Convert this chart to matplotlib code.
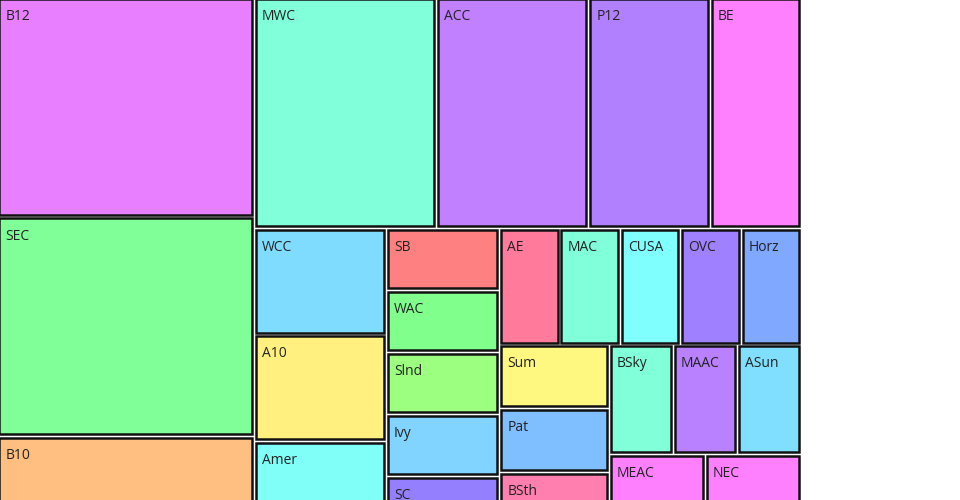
import matplotlib
matplotlib.use("Agg")
import matplotlib.pyplot as plt
from matplotlib.patches import Rectangle

# conference -> value, in tiling order (the last few sit below the visible area)
names = ["B12", "SEC", "B10", "MWC", "ACC", "P12", "BE", "WCC", "A10", "Amer", "MVC",
         "SB", "WAC", "Slnd", "Ivy", "SC", "CAA", "AE", "MAC", "CUSA", "OVC", "Horz",
         "Sum", "Pat", "BSth", "BW", "BSky", "MAAC", "ASun", "MEAC", "SWAC", "NEC",
         "Ind", "GWC"]
values = [8, 8, 6, 6, 5, 4, 3, 2, 2, 2, 1,
          1, 1, 1, 1, 1, 1, 1, 1, 1, 1, 1,
          1, 1, 1, 1, 1, 1, 1, 1, 1, 1,
          0.4, 0.6]
colors = ["#E87FFF", "#80FF99", "#FFBF80", "#80FFDA", "#C080FF", "#B080FF", "#FF80FF",
          "#80DCFF", "#FFF080", "#80FFF8", "#FFB080",
          "#FF8080", "#80FF8C", "#9CFF80", "#80D4FF", "#9480FF", "#80FFB0",
          "#FF7A9B", "#80FFDA", "#80FFFF", "#9F80FF", "#80A8FF",
          "#FFF880", "#80BFFF", "#FF80AF", "#FFD080",
          "#80FFD8", "#B980FF", "#80DFFF", "#FF80FF", "#A0FF80", "#FF80FF",
          "#80C8FF", "#FF9FD0"]

PHI = (1 + 5 ** 0.5) / 2


def squarify(vals, x0, y0, x1, y1, ratio=PHI):
    # same greedy rows as d3.treemapSquarify
    n = len(vals)
    rects = [None] * n
    value = float(sum(vals))
    i0 = i1 = 0
    while i0 < n:
        dx, dy = x1 - x0, y1 - y0
        s = vals[i1]
        i1 += 1
        vmin = vmax = s
        alpha = max(dy / dx, dx / dy) / (value * ratio)
        beta = s * s * alpha
        best = max(vmax / beta, beta / vmin)
        while i1 < n:
            v = vals[i1]
            s += v
            vmin = min(vmin, v)
            vmax = max(vmax, v)
            beta = s * s * alpha
            r = max(vmax / beta, beta / vmin)
            if r > best:
                s -= v
                break
            best = r
            i1 += 1
        if dx < dy:
            ny = y0 + dy * s / value if i1 < n else y1
            xx = x0
            for i in range(i0, i1):
                w = dx * vals[i] / s
                rects[i] = (xx, y0, w, ny - y0)
                xx += w
            y0 = ny
        else:
            nx = x0 + dx * s / value if i1 < n else x1
            yy = y0
            for i in range(i0, i1):
                h = dy * vals[i] / s
                rects[i] = (x0, yy, nx - x0, h)
                yy += h
            x0 = nx
        value -= s
        i0 = i1
    return rects


fig = plt.figure(figsize=(9.6, 5), dpi=100)
ax = fig.add_axes([0, 0, 1, 1])
ax.set_xlim(0, 960)
ax.set_ylim(500, 0)
ax.axis("off")

gap = 1.9
cells = squarify(values, -2.5, -2.5, 801, 600)
for name, col, (x, y, w, h) in zip(names, colors, cells):
    ax.add_patch(Rectangle((x + gap, y + gap), w - 2 * gap, h - 2 * gap,
                           facecolor=col, edgecolor="#111111", linewidth=1.8))
    # labels of cells that start below the visible area are not drawn
    if y + 13 < 500:
        ax.text(x + 8.2, y + 23, name, fontsize=10, family=["Open Sans", "DejaVu Sans"],
                color="#222222", va="baseline", ha="left", clip_on=True)

fig.savefig("out.png", dpi=100)
